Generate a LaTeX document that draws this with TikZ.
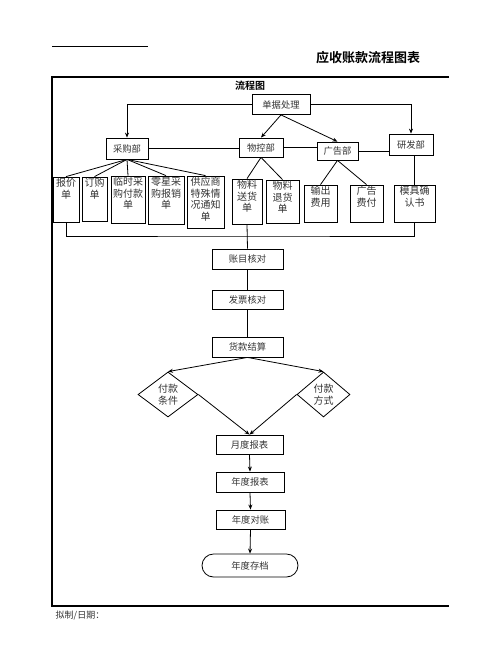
\documentclass[tikz,border=0pt]{standalone}
\usepackage{fontspec}
\setmainfont{Noto Sans CJK SC}[BoldFont={Noto Sans CJK SC Bold}]
\usetikzlibrary{shapes.geometric, arrows.meta, positioning, calc}
\newcommand{\dan}[3]{\parbox[c][#2][t]{#1}{\centering\vspace*{1.5pt}#3}}

\begin{document}
\begin{tikzpicture}[x=1pt, y=-1pt, line width=0.8pt, >={Stealth[length=5pt, width=4pt]},
        kuang/.style={rectangle, draw, inner sep=0pt, text=black!80, font=\fontsize{9.3pt}{11pt}\selectfont},
        zi/.style={rectangle, draw, inner sep=0pt, text=black!80, font=\fontsize{10pt}{11.5pt}\selectfont},
        ling/.style={diamond, draw, inner sep=0pt, align=center, text=black!80, font=\fontsize{10pt}{11.5pt}\selectfont},
        yuan/.style={rectangle, draw, rounded corners=11.5pt, inner sep=0pt, text=black!80, font=\fontsize{9.3pt}{11pt}\selectfont}]
        \useasboundingbox (0,0) rectangle (502,649);
        % page frame
        \draw[line width=1pt] (52,46) -- (148,46);
        \node[font=\fontsize{13pt}{15pt}\selectfont\bfseries] (title) at (368,58) {应收账款流程图表};
        \draw[line width=2pt] (449,77) -- (52,77) -- (52,606) -- (449,606);
        \node[font=\fontsize{10pt}{12pt}\selectfont\bfseries] (lct) at (250,86) {流程图};
        \node[anchor=west, text=black!80, font=\fontsize{9pt}{11pt}\selectfont] (nz) at (52,616) {拟制/日期：};
        % departments
        \node[kuang, minimum width=58pt, minimum height=20pt] (DJ) at (281,104.5) {单据处理};
        \node[kuang, minimum width=42pt, minimum height=21pt] (CG) at (127,148.5) {采购部};
        \node[kuang, minimum width=44pt, minimum height=19pt] (WK) at (261,147.5) {物控部};
        \node[kuang, minimum width=41pt, minimum height=18pt] (GG) at (337.5,151) {广告部};
        \node[kuang, minimum width=44pt, minimum height=21pt] (YF) at (411,144.5) {研发部};
        % documents
        \node[zi] (BJ) at (66,199.5) {\dan{26pt}{45pt}{报价\\单}};
        \node[zi] (DG) at (94.5,199) {\dan{25pt}{44pt}{订购\\单}};
        \node[zi] (LS) at (128,199.5) {\dan{34pt}{47pt}{临时采\\购付款\\单}};
        \node[zi] (LX) at (166,200) {\dan{36pt}{48pt}{零星采\\购报销\\单}};
        \node[zi] (GY) at (205.5,202) {\dan{37pt}{52pt}{供应商\\特殊情\\况通知\\单}};
        \node[zi] (SH) at (247,201.5) {\dan{30pt}{45pt}{物料\\送货\\单}};
        \node[zi] (TH) at (282.5,201.5) {\dan{33pt}{43pt}{物料\\退货\\单}};
        \node[zi] (SC) at (320.5,203.5) {\dan{33pt}{37pt}{输出\\费用}};
        \node[zi] (FF) at (366.5,203.5) {\dan{33pt}{37pt}{广告\\费付}};
        \node[zi] (MJ) at (414.5,203.5) {\dan{41pt}{37pt}{模具确\\认书}};
        % checking steps
        \node[kuang, minimum width=71pt, minimum height=20pt] (ZM) at (247.5,259) {账目核对};
        \node[kuang, minimum width=71pt, minimum height=19pt] (FP) at (247.5,299.5) {发票核对};
        \node[kuang, minimum width=71pt, minimum height=20pt] (HK) at (247.5,347) {货款结算};
        \node[ling, minimum width=60pt, minimum height=45pt] (TJ) at (168,394.5) {付款\\条件};
        \node[ling, minimum width=53pt, minimum height=45pt] (FS) at (323.5,394.5) {付款\\方式};
        \node[kuang, minimum width=67pt, minimum height=19pt] (YB) at (249.5,444.5) {月度报表};
        \node[kuang, minimum width=68pt, minimum height=20pt] (ND) at (250,482) {年度报表};
        \node[kuang, minimum width=69pt, minimum height=19pt] (DZ) at (250.5,519.5) {年度对账};
        \node[yuan, minimum width=96pt, minimum height=23pt] (CD) at (250,565.5) {年度存档};
        \coordinate (hui) at (247,236);
        % connectors
        \draw[->] (DJ.west) -| (CG.north);
        \draw[->] (DJ.east) -| (YF.north);
        \draw[->] (DJ.south) -- (WK.north);
        \draw[->] (DJ.south) -- (GG.north);
        \draw (CG.east) -- (CG.east -| WK.west);
        \draw (WK.east) -- (WK.east -| GG.west);
        \draw (GG.east) -- (GG.east -| YF.west);
        \foreach \d in {BJ, DG, LS, LX, GY}
            \draw (CG.south) -- (\d.north);
        \draw (WK.south) -- (SH.north);
        \draw (WK.south) -- (TH.north);
        \draw (GG.south) -- (SC.north);
        \draw (GG.south) -- (FF.north);
        \draw (YF.south -| MJ.north) -- (MJ.north);
        \draw (BJ.south) |- (hui) -| (MJ.south);
        \draw (SH.south) -- (ZM.north);
        \draw (ZM.south) -- (FP.north);
        \draw (FP.south) -- (HK.north);
        \draw[->] (HK.south) -- (TJ.north);
        \draw[->] (HK.south) -- (FS.north);
        \draw[->] (TJ.east) -- (YB.north);
        \draw[->] (FS.west) -- (YB.north);
        \draw[->] (YB.south) -- (ND.north);
        \draw[->] (ND.south) -- (DZ.north);
        \draw[->] (DZ.south) -- (CD.north);
    \end{tikzpicture}
\end{document}
